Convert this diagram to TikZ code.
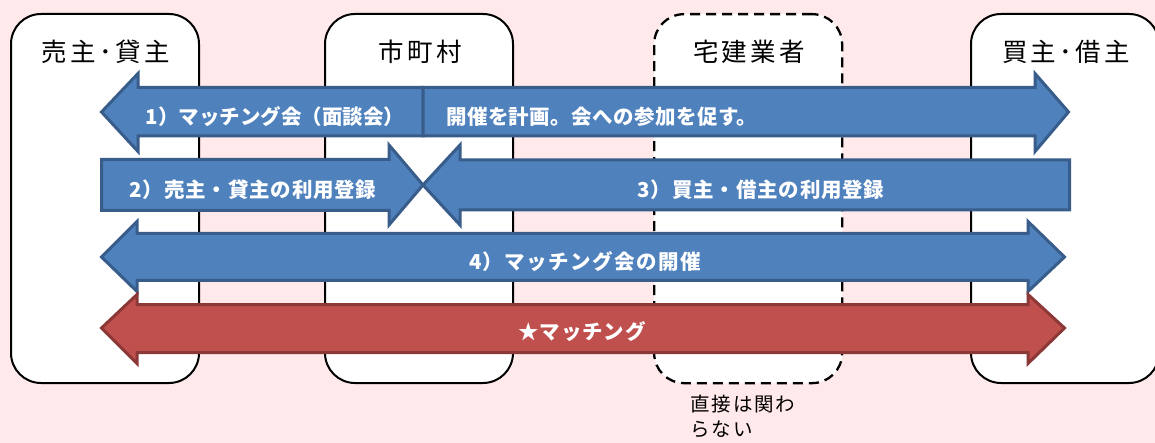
\documentclass[tikz,border=0pt]{standalone}
\usepackage{fontspec}
\setmainfont{Noto Sans CJK JP}
\definecolor{bgpink}{RGB}{255,233,234}
\definecolor{bluefill}{RGB}{79,129,189}
\definecolor{blueline}{RGB}{56,93,138}
\definecolor{redfill}{RGB}{192,80,77}
\definecolor{redline}{RGB}{140,56,54}
\tikzset{
  actor/.style={draw=black, line width=2pt, fill=white, rounded corners=30pt, anchor=north west, inner sep=0pt},
  actordash/.style={actor, line width=2.3pt, dash pattern=on 10pt off 6pt},
  actorlabel/.style={font=\fontsize{25.5}{30}\selectfont\addfontfeature{LetterSpace=13}, anchor=center, inner sep=0pt},
  bluearrow/.style={fill=bluefill, draw=blueline, line width=3pt, line join=miter},
  redarrow/.style={fill=redfill, draw=redline, line width=3pt, line join=miter},
  arrowtext/.style={text=white, font=\fontsize{20.5}{24}\selectfont\bfseries, inner sep=0pt, anchor=center},
  widearrowtext/.style={arrowtext, font=\fontsize{20.5}{24}\selectfont\bfseries\addfontfeature{LetterSpace=7}},
  notetext/.style={font=\fontsize{19.5}{25}\selectfont\addfontfeature{LetterSpace=10}, align=left, anchor=north west, inner sep=0pt}
}
\begin{document}
\begin{tikzpicture}[x=1pt,y=-1pt]
\fill[bgpink] (0,0) rectangle (1155,443);
\useasboundingbox (0,0) rectangle (1155,443);

% actor boxes
\node[actor, minimum width=188pt, minimum height=369pt] (seller) at (10,13) {};
\node[actor, minimum width=188pt, minimum height=369pt] (city) at (324,13) {};
\node[actordash, minimum width=188pt, minimum height=369pt] (agent) at (653,13) {};
\node[actor, minimum width=188pt, minimum height=369pt] (buyer) at (970,13) {};

\node[actorlabel] (sellerlab) at (106,52) {売主･貸主};
\node[actorlabel] (citylab) at (420,52) {市町村};
\node[actorlabel] (agentlab) at (749,52) {宅建業者};
\node[actorlabel] (buyerlab) at (1066,52) {買主･借主};

% 1) left and right parts
\draw[bluearrow] (423,87.5) -- (138,87.5) -- (138,73.5) -- (101.5,112) -- (138,151.5) -- (138,136) -- (423,136) -- cycle;
\draw[bluearrow] (423,87.5) -- (1035,87.5) -- (1035,73.5) -- (1068.5,112) -- (1035,151.5) -- (1035,136) -- (423,136) -- cycle;
\node[arrowtext] (t1a) at (275,117) {1）マッチング会（面談会）};
\node[arrowtext, anchor=west] (t1b) at (446,117) {\addfontfeature{LetterSpace=2}開催を計画。会への参加を促す。};

% 2) and 3)
\draw[bluearrow] (101.5,159.5) -- (389,159.5) -- (389,145) -- (423,185) -- (389,225) -- (389,210.5) -- (101.5,210.5) -- cycle;
\draw[bluearrow] (1069.5,160) -- (460,160) -- (460,145) -- (423,185) -- (460,225) -- (460,210) -- (1069.5,210) -- cycle;
\node[arrowtext] (t2) at (253,190) {\addfontfeature{LetterSpace=4}2）売主・貸主の利用登録};
\node[arrowtext] (t3) at (761,190) {\addfontfeature{LetterSpace=4}3）買主・借主の利用登録};

% 4)
\draw[bluearrow] (101.5,257) -- (137,221.5) -- (137,233.5) -- (1028,233.5) -- (1028,221.5) -- (1064.5,257) -- (1028,291.5) -- (1028,280.5) -- (137,280.5) -- (137,291.5) -- cycle;
\node[widearrowtext] (t4) at (585,262) {4）マッチング会の開催};

% matching
\draw[redarrow] (101.5,328) -- (137,294.5) -- (137,304.5) -- (1028,304.5) -- (1028,294.5) -- (1064.5,328) -- (1028,363.5) -- (1028,352.5) -- (137,352.5) -- (137,363.5) -- cycle;
\node[arrowtext] (t5) at (582,332) {\addfontfeature{LetterSpace=4}★マッチング};

\node[notetext] (note) at (690,395) {直接は関わ\\らない};
\end{tikzpicture}
\end{document}
